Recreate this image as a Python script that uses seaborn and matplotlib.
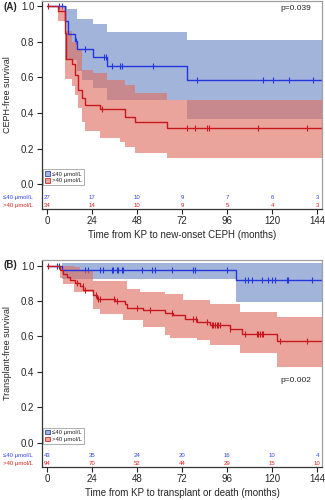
import matplotlib
matplotlib.use('Agg')
import matplotlib.pyplot as plt
from matplotlib.patches import Patch
import numpy as np
import pandas as pd
import seaborn as sns

# ---- data (months, survival) ----
xticks = [0, 24, 48, 72, 96, 120, 144]
grp_lo = '≤40 μmol/L'
grp_hi = '>40 μmol/L'

# panel A
a_blue_t = [0, 9.6, 11.4, 14.9, 15.8, 24.7, 31.8, 74.5]
a_blue_s = [1.0, 0.917, 0.846, 0.804, 0.761, 0.716, 0.663, 0.588]
a_blue_ci_t = [0, 9.6, 10.5, 15.8, 18.5, 24.7, 31.8, 74.5]
a_blue_hi = [1.0, 1.0, 0.983, 0.927, 0.927, 0.898, 0.853, 0.81]
a_blue_lo = [1.0, 0.70, 0.70, 0.635, 0.588, 0.54, 0.475, 0.366]
a_blue_cens = [6.5, 8.0, 15.5, 20.3, 30.5, 31.5, 34.5, 38.9, 39.8, 56.7,
               79.8, 115.0, 120.4, 129.2, 141.7]

a_red_t = [0, 6.0, 9.6, 10.2, 13.2, 14.9, 16.7, 18.5, 20.3, 28.3, 41.6, 46.9, 63.8]
a_red_s = [1.0, 0.974, 0.85, 0.705, 0.676, 0.616, 0.531, 0.484, 0.446, 0.42,
           0.38, 0.349, 0.315]
a_red_ci_t = [0, 6.0, 9.6, 13.2, 14.9, 16.7, 18.5, 20.3, 24.7, 28.3, 31.8,
              38.9, 41.6, 46.9, 63.8]
a_red_hi = [1.0, 1.0, 0.86, 0.80, 0.80, 0.757, 0.64, 0.64, 0.625, 0.625,
            0.588, 0.588, 0.559, 0.512, 0.475]
a_red_lo = [1.0, 0.917, 0.59, 0.55, 0.50, 0.43, 0.35, 0.30, 0.30, 0.26, 0.26,
            0.239, 0.21, 0.177, 0.148]
a_red_cens = [0.5, 29.2, 74.5, 78.9, 85.5, 86.6, 112.7, 138.8]

a_risk_blue = [27, 17, 10, 9, 7, 6, 3]
a_risk_red = [34, 14, 10, 9, 5, 4, 3]

# panel B
b_blue_t = [0, 7.8, 100.8]
b_blue_s = [1.0, 0.976, 0.92]
b_blue_ci_t = [0, 7.8, 100.8]
b_blue_hi = [1.0, 1.015, 1.015]
b_blue_lo = [1.0, 0.925, 0.794]
b_blue_cens = [5.2, 6.6, 20.3, 22.0, 28.3, 30.0, 34.5, 35.4, 37.2, 38.0, 39.8,
               40.7, 50.5, 55.8, 57.6, 66.5, 77.7, 78.9, 95.8, 105.6, 107.4,
               109.2, 114.5, 118.0, 119.8, 121.6, 127.8, 128.7, 141.2]

b_red_t = [0, 6.9, 8.7, 10.5, 12.3, 14.9, 17.6, 19.4, 24.7, 26.5, 36.3, 41.6,
           42.5, 51.4, 62.9, 67.4, 73.6, 79.8, 86.9, 97.6, 103.8, 122.5]
b_red_s = [1.0, 0.972, 0.953, 0.934, 0.916, 0.903, 0.882, 0.863, 0.835, 0.813,
           0.80, 0.781, 0.762, 0.747, 0.732, 0.719, 0.70, 0.681, 0.663, 0.64,
           0.616, 0.575]
b_red_ci_t = [0, 6.9, 8.7, 14.3, 17.6, 24.7, 28.3, 40.7, 42.5, 49.6, 51.4,
              62.9, 65.6, 72.7, 79.8, 86.9, 102.9, 122.5]
b_red_hi = [1.0, 1.0, 1.0, 0.99, 0.97, 0.915, 0.915, 0.915, 0.869, 0.85, 0.85,
            0.84, 0.84, 0.803, 0.803, 0.785, 0.738, 0.71]
b_red_lo = [1.0, 0.93, 0.897, 0.85, 0.85, 0.757, 0.728, 0.69, 0.69, 0.69,
            0.653, 0.607, 0.593, 0.593, 0.579, 0.551, 0.504, 0.43]
b_red_cens = [0.5, 16.0, 19.0, 20.5, 26.0, 27.0, 28.3, 36.0, 37.5, 48.0, 55.0,
              66.5, 78.1, 79.5, 85.2, 88.0, 88.7, 89.6, 90.5, 91.4, 92.3, 97.6,
              105.6, 111.8, 112.7, 113.6, 114.5, 115.4, 124.3, 138.5]

b_risk_blue = [43, 35, 24, 20, 16, 10, 4]
b_risk_red = [94, 70, 52, 44, 29, 15, 10]

# ---- style ----
BLUE = '#2236dc'
RED = '#c8161d'
BLUE_BAND = '#a3b4db'
RED_BAND = '#df7062'
XMIN, XMAX = -2.7, 146.7

sns.set_style('ticks')
plt.rcParams['font.family'] = ['Liberation Sans', 'DejaVu Sans']


def step_value(times, vals, x):
    idx = np.searchsorted(times, x, side='right') - 1
    return np.asarray(vals)[idx]


def draw_curve(ax, t, s, ci_t, lo, hi, cens, line_col, band_col, band_alpha):
    ct = list(ci_t) + [XMAX]
    ax.fill_between(ct, list(lo) + [lo[-1]], list(hi) + [hi[-1]], step='post',
                    color=band_col, alpha=band_alpha, linewidth=0)
    df = pd.DataFrame({'t': list(t) + [XMAX], 's': list(s) + [s[-1]]})
    sns.lineplot(data=df, x='t', y='s', ax=ax, drawstyle='steps-post',
                 color=line_col, linewidth=1.0, estimator=None, sort=False)
    cdf = pd.DataFrame({'t': cens, 's': step_value(t, s, cens)})
    sns.scatterplot(data=cdf, x='t', y='s', ax=ax, marker='|', s=22,
                    color=line_col, linewidth=0.8)


def panel(ax, blue, red, risk_b, risk_r, ylabel, xlabel, ptxt, py, ylo):
    draw_curve(ax, *blue, BLUE, BLUE_BAND, 1.0)
    draw_curve(ax, *red, RED, RED_BAND, 0.63)
    ax.set_xlim(XMIN, XMAX)
    ax.set_ylim(ylo, 1.03)
    ax.set_xticks(xticks)
    ax.set_yticks([0.0, 0.2, 0.4, 0.6, 0.8, 1.0])
    ax.set_yticklabels(['0.0', '0.2', '0.4', '0.6', '0.8', '1.0'])
    ax.tick_params(labelsize=7, length=3.5, width=0.8, pad=2, color='#222222')
    for side in ['left', 'bottom']:
        ax.spines[side].set_color('#333333')
        ax.spines[side].set_linewidth(0.9)
    for side in ['top', 'right']:
        ax.spines[side].set_visible(True)
        ax.spines[side].set_color('#a0a0a0')
        ax.spines[side].set_linewidth(0.9)
    ax.set_ylabel(ylabel, fontsize=6.5)
    ax.yaxis.set_label_coords(-0.108, 0.55)
    ax.set_xlabel(xlabel, fontsize=7, va='top')
    ax.xaxis.set_label_coords(0.5, -0.105)
    ax.text(132.5, py, ptxt, fontsize=6, ha='center', va='center')
    # number at risk rows
    for i, x in enumerate(xticks):
        ax.text(x, -0.074, str(risk_b[i]), color='#3344ee', fontsize=4.3,
                ha='center', va='center')
        ax.text(x, -0.118, str(risk_r[i]), color='#dd2222', fontsize=4.3,
                ha='center', va='center')
    ax.text(-23.5, -0.074, grp_lo, color='#3344ee', fontsize=4.3,
            ha='left', va='center', clip_on=False)
    ax.text(-23.5, -0.118, grp_hi, color='#dd2222', fontsize=4.3,
            ha='left', va='center', clip_on=False)
    handles = [Patch(facecolor=BLUE_BAND, edgecolor='#3344aa', linewidth=0.6,
                     label=grp_lo),
               Patch(facecolor='#eba59c', edgecolor='#bb3333', linewidth=0.6,
                     label=grp_hi)]
    leg = ax.legend(handles=handles, loc='lower left',
                    bbox_to_anchor=(0.005, (0.0 - ylo) / (1.03 - ylo) - 0.005),
                    fontsize=4.3, frameon=True, fancybox=False,
                    handlelength=0.8, handleheight=0.8, handletextpad=0.4,
                    borderpad=0.3, labelspacing=0.25, borderaxespad=0.0)
    leg.get_frame().set_edgecolor('#888888')
    leg.get_frame().set_linewidth(0.6)


fig = plt.figure(figsize=(3.25, 5.0), dpi=100)
axA = fig.add_axes([0.129, 0.583, 0.862, 0.415])
axB = fig.add_axes([0.129, 0.0666, 0.862, 0.413])

panel(axA,
      (a_blue_t, a_blue_s, a_blue_ci_t, a_blue_lo, a_blue_hi, a_blue_cens),
      (a_red_t, a_red_s, a_red_ci_t, a_red_lo, a_red_hi, a_red_cens),
      a_risk_blue, a_risk_red, 'CEPH-free survival',
      'Time from KP to new-onset CEPH (months)', 'p=0.039', 0.99, -0.137)
panel(axB,
      (b_blue_t, b_blue_s, b_blue_ci_t, b_blue_lo, b_blue_hi, b_blue_cens),
      (b_red_t, b_red_s, b_red_ci_t, b_red_lo, b_red_hi, b_red_cens),
      b_risk_blue, b_risk_red, 'Transplant-free survival',
      'Time from KP to transplant or death (months)', 'p=0.002', 0.353, -0.135)

fig.text(0.01, 0.986, '(A)', fontsize=7, fontweight='bold', va='center')
fig.text(0.01, 0.47, '(B)', fontsize=7, fontweight='bold', va='center')

fig.savefig('out.png', dpi=100)
